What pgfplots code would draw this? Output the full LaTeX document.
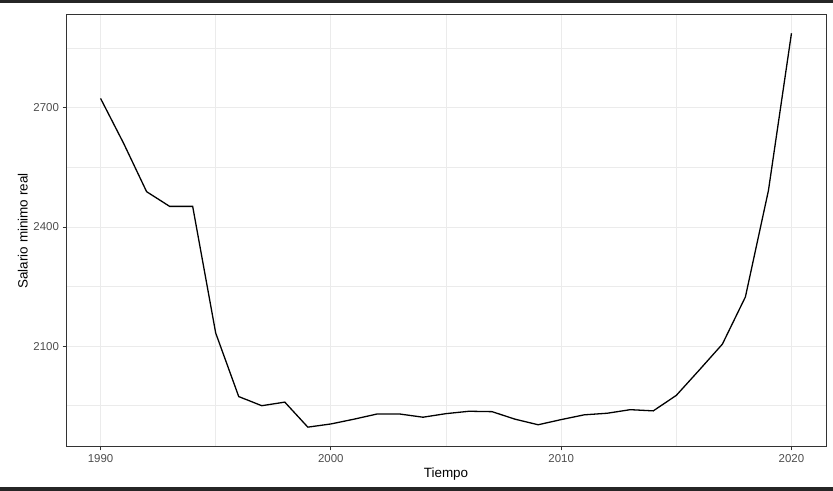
\documentclass[border=0pt]{standalone}
\usepackage{fontspec}
\setmainfont{Liberation Sans}
\usepackage{pgfplots}
\pgfplotsset{compat=1.18}
\definecolor{gridc}{HTML}{EBEBEB}
\definecolor{framec}{HTML}{333333}
\definecolor{tickc}{HTML}{4D4D4D}
\begin{document}
\begin{tikzpicture}[x=1bp,y=1bp]
\useasboundingbox (0,0) rectangle (833,491);
\fill[black!85] (0,488) rectangle (833,491);
\fill[black!85] (0,0) rectangle (833,4);
\begin{axis}[
    at={(66bp,44bp)}, anchor=south west,
    scale only axis,
    width=760bp, height=432bp,
    xmin=1988.5, xmax=2021.5,
    ymin=1846, ymax=2934,
    xtick={1990,2000,2010,2020},
    ytick={2100,2400,2700},
    minor xtick={1995,2005,2015},
    minor ytick={1950,2250,2550,2850},
    grid=both,
    major grid style={gridc, line width=1bp},
    minor grid style={gridc, line width=0.6bp},
    axis line style={framec, line width=1bp},
    tick align=outside,
    major tick length=3.5bp,
    minor tick length=0pt,
    tick style={framec, line width=0.8bp},
    xtick pos=bottom, ytick pos=left,
    /pgf/number format/1000 sep={},
    /pgf/number format/assume math mode=true,
    tick label style={font=\fontsize{11.5}{13}\selectfont, color=tickc},
    xlabel={Tiempo},
    ylabel={Salario minimo real},
    label style={font=\fontsize{13.5}{15}\selectfont, color=black},
    xlabel style={yshift=1bp},
    ylabel style={yshift=-1bp},
]
\addplot[black, line width=1.3bp] coordinates {
(1990,2724) (1991,2611) (1992,2489) (1993,2452) (1994,2452)
(1995,2133) (1996,1973) (1997,1950) (1998,1959) (1999,1896)
(2000,1904) (2001,1916) (2002,1929) (2003,1929) (2004,1921)
(2005,1930) (2006,1936) (2007,1935) (2008,1916) (2009,1902)
(2010,1915) (2011,1927) (2012,1931) (2013,1940) (2014,1937)
(2015,1976) (2016,2040) (2017,2105) (2018,2224) (2019,2492)
(2020,2888)
};
\end{axis}
\end{tikzpicture}
\end{document}
